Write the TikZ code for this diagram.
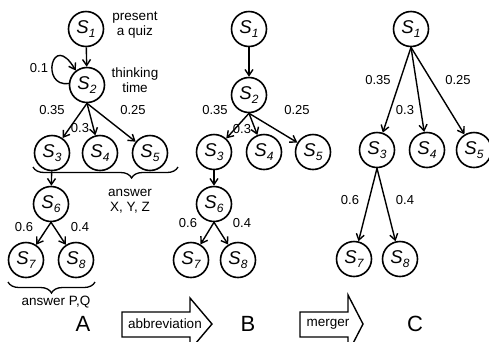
\documentclass[tikz,border=0pt]{standalone}
\usepackage{fontspec}
\setmainfont{Liberation Sans}
\usetikzlibrary{arrows.meta,decorations.pathreplacing}

% state label: italic S with a lowered index
\newcommand{\stname}[1]{{\fontsize{18.5}{18.5}\selectfont\itshape S\kern0.3pt\raisebox{-4.5pt}{\fontsize{12}{12}\selectfont #1}}}

\begin{document}
\begin{tikzpicture}[x=1pt,y=-1pt,
  state/.style={circle,draw,line width=1.6pt,minimum size=35pt,inner sep=0pt},
  edge/.style={line width=1.4pt,-{Straight Barb[length=6pt,width=8pt]}},
  lbl/.style={font=\fontsize{13}{13}\selectfont,inner sep=0pt},
  note/.style={font=\fontsize{13.5}{15}\selectfont,align=center,inner sep=0pt},
  big/.style={font=\fontsize{22}{22}\selectfont,inner sep=0pt},
  bracket/.style={line width=1.3pt,decorate},
  bigarrow/.style={draw,line width=1.4pt,line join=miter}]
\clip (0,0) rectangle (489,341);

% ---------------- model A ----------------
\node[state] (a1) at (86,29) {\stname{1}};
\node[state] (a2) at (87,85) {\stname{2}};
\node[state] (a3) at (52,153) {\stname{3}};
\node[state] (a4) at (100,153) {\stname{4}};
\node[state] (a5) at (150,153) {\stname{5}};
\node[state] (a6) at (51,204) {\stname{6}};
\node[state] (a7) at (26,260) {\stname{7}};
\node[state] (a8) at (76,260) {\stname{8}};

\node[note] (t1) at (135,25) {present\\a quiz};
\node[note] (t2) at (135,80) {thinking\\time};

\draw[edge] (a1) -- (a2);
\draw[edge] (a2.175) .. controls (40,88) and (52,30) .. (a2.128);
\node[lbl] (p0) at (39,68) {0.1};
\draw[edge] (a2.south) -- (a3);
\draw[edge] (a2.south) -- (a4);
\draw[edge] (a2.south) -- (a5);
\node[lbl] (p1) at (52,110) {0.35};
\node[lbl] (p2) at (80,128) {0.3};
\node[lbl] (p3) at (133,110) {0.25};
\draw[edge] (a3) -- (a6);
\draw[edge] (a6.south) -- (a7);
\draw[edge] (a6.south) -- (a8);
\node[lbl] (p4) at (24,227) {0.6};
\node[lbl] (p5) at (80,227) {0.4};

\coordinate (b1l) at (33,167);
\coordinate (b1r) at (178,167);
\draw[bracket,decoration={brace,amplitude=11pt,aspect=0.68,mirror}] (b1l) -- (b1r);
\node[note] (t3) at (130,201) {answer\\X, Y, Z};

\coordinate (b2l) at (8,282);
\coordinate (b2r) at (95,282);
\draw[bracket,decoration={brace,amplitude=11pt,mirror}] (b2l) -- (b2r);
\node[note] (t4) at (56,302) {answer P,Q};

\node[big] (la) at (83,324) {A};

% ---------------- model B ----------------
\node[state] (b1) at (249,29) {\stname{1}};
\node[state] (b2) at (249,95) {\stname{2}};
\node[state] (b3) at (214,152) {\stname{3}};
\node[state] (b4) at (264,152) {\stname{4}};
\node[state] (b5) at (313,152) {\stname{5}};
\node[state] (b6) at (214,204) {\stname{6}};
\node[state] (b7) at (191,260) {\stname{7}};
\node[state] (b8) at (238,260) {\stname{8}};

\draw[edge] (b1) -- (b2);
\draw[edge] (b2.south) -- (b3);
\draw[edge] (b2.south) -- (b4);
\draw[edge] (b2.south) -- (b5);
\node[lbl] (q1) at (215,110) {0.35};
\node[lbl] (q2) at (242,129) {0.3};
\node[lbl] (q3) at (297,110) {0.25};
\draw[edge] (b3) -- (b6);
\draw[edge] (b6.south) -- (b7);
\draw[edge] (b6.south) -- (b8);
\node[lbl] (q4) at (188,223) {0.6};
\node[lbl] (q5) at (242,223) {0.4};

\node[big] (lb) at (248,324) {B};

% ---------------- model C ----------------
\node[state] (c1) at (411,29) {\stname{1}};
\node[state] (c3) at (377,150) {\stname{3}};
\node[state] (c4) at (427,150) {\stname{4}};
\node[state] (c5) at (474,150) {\stname{5}};
\node[state] (c7) at (354,259) {\stname{7}};
\node[state] (c8) at (400,259) {\stname{8}};

\draw[edge] (c1.south) -- (c3);
\draw[edge] (c1.south) -- (c4);
\draw[edge] (c1.south) -- (c5);
\node[lbl] (r1) at (378,80) {0.35};
\node[lbl] (r2) at (405,110) {0.3};
\node[lbl] (r3) at (458,80) {0.25};
\draw[edge] (c3.south) -- (c7);
\draw[edge] (c3.south) -- (c8);
\node[lbl] (r4) at (350,200) {0.6};
\node[lbl] (r5) at (405,200) {0.4};

\node[big] (lc) at (415,324) {C};

% ---------------- transformation arrows ----------------
\draw[bigarrow] (122,312) -- (190,312) -- (190,298) -- (212,324) -- (190,350)
  -- (190,337) -- (122,337) -- cycle;
\node[note] (abbr) at (165,324) {abbreviation};

\draw[bigarrow] (300,312) -- (348,312) -- (348,295) -- (363,324) -- (348,353)
  -- (348,337) -- (300,337) -- cycle;
\node[note] (merg) at (328,324) {merger};
\end{tikzpicture}
\end{document}
